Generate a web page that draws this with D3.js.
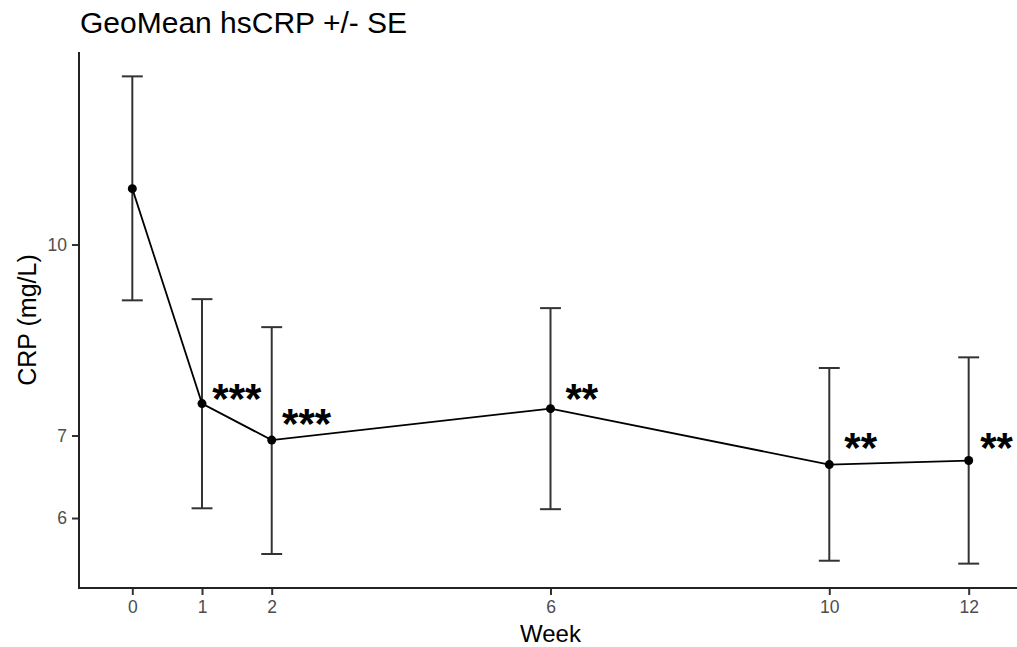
<!DOCTYPE html>
<html>
<head>
<meta charset="utf-8">
<script src="https://cdn.jsdelivr.net/npm/d3@7"></script>
<style>
  body { margin: 0; background: #fff; }
  text { font-family: "Liberation Sans", Arial, sans-serif; }
</style>
</head>
<body>
<div id="chart"></div>
<script>
// data
const weeks = [0, 1, 2, 6, 10, 12];
const geoMean = [11.10, 7.43, 6.94, 7.36, 6.63, 6.68];
const upperSE = [13.69, 9.03, 8.57, 8.88, 7.94, 8.10];
const lowerSE = [9.01, 6.11, 5.61, 6.10, 5.54, 5.51];
const sigLabels = ["", "***", "***", "**", "**", "**"];
const sigX = [null, 1.5, 2.5, 6.45, 10.45, 12.4];
const sigY = [null, 7.64, 7.29, 7.63, 6.97, 6.97];
const yTicks = [6, 7, 10];
const xTicks = [0, 1, 2, 6, 10, 12];

const W = 1017, H = 647;
const margin = {top: 52, right: -5, bottom: 59, left: 79};
const capHalf = 0.15; // errorbar half width, weeks

const svg = d3.select("#chart").append("svg")
    .attr("width", W)
    .attr("height", H);

// ggplot style 5% expansion
let xmin = d3.min(weeks) - capHalf, xmax = d3.max(weeks) + capHalf;
let xpad = (xmax - xmin) * 0.05;
const x = d3.scaleLinear()
    .domain([xmin - xpad, xmax + xpad])
    .range([margin.left, W - margin.right]);

let lmin = Math.log(d3.min(lowerSE)), lmax = Math.log(d3.max(upperSE));
let lpad = (lmax - lmin) * 0.05;
const y = d3.scaleLog()
    .domain([Math.exp(lmin - lpad), Math.exp(lmax + lpad)])
    .range([H - margin.bottom, margin.top]);

// title
svg.append("text")
    .attr("x", 80)
    .attr("y", 33)
    .attr("font-size", 30)
    .attr("fill", "#000")
    .text("GeoMean hsCRP +/- SE");

// axes
const yAxis = svg.append("g")
    .attr("transform", `translate(${margin.left},0)`)
    .call(d3.axisLeft(y).tickValues(yTicks).tickFormat(d3.format("d")).tickSizeOuter(0).tickSize(7).tickPadding(5));
const xAxis = svg.append("g")
    .attr("transform", `translate(0,${H - margin.bottom})`)
    .call(d3.axisBottom(x).tickValues(xTicks).tickSizeOuter(0).tickSize(7).tickPadding(6));

[xAxis, yAxis].forEach(a => {
    a.select(".domain").remove();
    a.selectAll(".tick line").attr("stroke", "#333").attr("stroke-width", 2);
    a.selectAll(".tick text").attr("fill", "#4d4d4d").attr("font-size", 17.5)
        .attr("font-family", "'Liberation Sans', Arial, sans-serif");
});

// axis lines
svg.append("line")
    .attr("x1", margin.left).attr("x2", margin.left)
    .attr("y1", y.range()[1]).attr("y2", y.range()[0] + 1)
    .attr("stroke", "#222").attr("stroke-width", 2);
svg.append("line")
    .attr("x1", margin.left - 1).attr("x2", W)
    .attr("y1", y.range()[0]).attr("y2", y.range()[0])
    .attr("stroke", "#222").attr("stroke-width", 2);

// axis titles
svg.append("text")
    .attr("x", (x.range()[0] + x.range()[1]) / 2)
    .attr("y", 642)
    .attr("text-anchor", "middle")
    .attr("font-size", 24)
    .text("Week");

svg.append("text")
    .attr("transform", `translate(36,${(y.range()[0] + y.range()[1]) / 2}) rotate(-90)`)
    .attr("text-anchor", "middle")
    .attr("font-size", 25)
    .text("CRP (mg/L)");

const data = weeks.map((w, i) => ({
    week: w, mean: geoMean[i], hi: upperSE[i], lo: lowerSE[i],
    label: sigLabels[i], lx: sigX[i], ly: sigY[i]
}));

// error bars
const eb = svg.append("g").attr("class", "errorbars")
    .attr("stroke", "#333").attr("stroke-width", 2).attr("fill", "none");
const capPx = x(capHalf) - x(0);
data.forEach(d => {
    const cx = x(d.week);
    eb.append("line").attr("x1", cx).attr("x2", cx).attr("y1", y(d.hi)).attr("y2", y(d.lo));
    eb.append("line").attr("x1", cx - capPx).attr("x2", cx + capPx).attr("y1", y(d.hi)).attr("y2", y(d.hi));
    eb.append("line").attr("x1", cx - capPx).attr("x2", cx + capPx).attr("y1", y(d.lo)).attr("y2", y(d.lo));
});

// line
const line = d3.line().x(d => x(d.week)).y(d => y(d.mean));
svg.append("path")
    .datum(data)
    .attr("d", line)
    .attr("fill", "none")
    .attr("stroke", "#000")
    .attr("stroke-width", 1.8);

// points
svg.selectAll(".pt")
    .data(data)
    .enter()
    .append("circle")
    .attr("class", "pt")
    .attr("cx", d => x(d.week))
    .attr("cy", d => y(d.mean))
    .attr("r", 4.5)
    .attr("fill", "#000");

// significance stars
const starSize = 42;
svg.selectAll(".sig")
    .data(data.filter(d => d.label))
    .enter()
    .append("text")
    .attr("class", "sig")
    .attr("x", d => x(d.lx))
    .attr("y", d => y(d.ly) + starSize * 0.57)
    .attr("text-anchor", "middle")
    .attr("font-size", starSize)
    .attr("font-weight", "bold")
    .text(d => d.label);
</script>
</body>
</html>
